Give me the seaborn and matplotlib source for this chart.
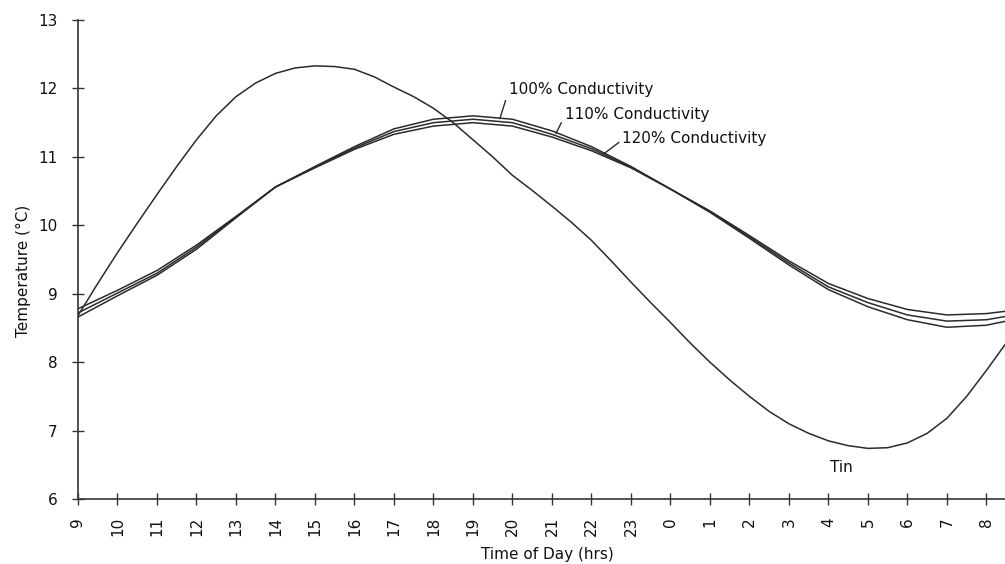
import numpy as np
import pandas as pd
import seaborn as sns
import matplotlib.pyplot as plt

# hours after 9:00, labelled as clock time
hours = list(range(25))
hour_labels = [str((9 + h) % 24) for h in range(24)]

# Tin read every half hour (sharper curve)
tin_hours = [h / 2 for h in range(49)]
tin = [8.68, 9.15, 9.60, 10.03, 10.45, 10.86, 11.25, 11.60, 11.88, 12.08, 12.22, 12.30,
       12.33, 12.32, 12.28, 12.17, 12.02, 11.88, 11.71, 11.50, 11.25, 11.00, 10.73, 10.51,
       10.28, 10.04, 9.78, 9.48, 9.17, 8.87, 8.58, 8.28, 8.00, 7.74, 7.50, 7.28,
       7.10, 6.96, 6.85, 6.78, 6.74, 6.75, 6.82, 6.96, 7.18, 7.50, 7.88, 8.28, 8.68]
cond_100 = [8.66, 8.97, 9.27, 9.65, 10.11, 10.56, 10.86, 11.15, 11.41, 11.55, 11.60, 11.55,
            11.38, 11.15, 10.86, 10.53, 10.19, 9.81, 9.42, 9.06, 8.81, 8.62, 8.51, 8.54, 8.66]
cond_110 = [8.72, 9.01, 9.30, 9.68, 10.12, 10.56, 10.85, 11.13, 11.37, 11.50, 11.55, 11.50,
            11.33, 11.12, 10.85, 10.53, 10.20, 9.83, 9.45, 9.10, 8.87, 8.69, 8.60, 8.62, 8.72]
cond_120 = [8.78, 9.05, 9.34, 9.71, 10.13, 10.56, 10.84, 11.11, 11.33, 11.45, 11.50, 11.45,
            11.29, 11.09, 10.84, 10.53, 10.21, 9.85, 9.48, 9.15, 8.93, 8.77, 8.69, 8.71, 8.78]

sns.set_theme(style="ticks")
plt.rcParams['font.family'] = ['DejaVu Sans']

fig = plt.figure(figsize=(10.05, 5.64), dpi=100)
ax = fig.add_axes([0.0776, 0.1152, 0.9224, 0.8493])

line_col = '#2b2b2b'
sns.lineplot(x=tin_hours, y=tin, color=line_col, linewidth=1.1, ax=ax)
for series in [cond_100, cond_110, cond_120]:
    sns.lineplot(x=hours, y=series, color=line_col, linewidth=1.1, ax=ax)

ax.set_xlim(0, 23.47)
ax.set_ylim(6, 13)
ax.set_xticks(range(24))
ax.set_xticklabels(hour_labels, rotation=90)
ax.set_yticks(range(6, 14))

for side in ['top', 'right']:
    ax.spines[side].set_visible(False)
for side in ['left', 'bottom']:
    ax.spines[side].set_color('#333333')
    ax.spines[side].set_linewidth(1.2)

ax.tick_params(direction='inout', length=9, width=1.0, color='#333333',
               labelsize=11, labelcolor='#111111')
ax.tick_params(axis='x', pad=8.5)
ax.tick_params(axis='y', pad=10)

ax.set_xlabel('Time of Day (hrs)', fontsize=11, color='#111111')
ax.set_ylabel('Temperature (°C)', fontsize=11, color='#111111')
ax.xaxis.set_label_coords(0.506, -0.100)
ax.yaxis.set_label_coords(-0.051, 0.476)

# curve labels with leader lines
lead = dict(arrowstyle='-', color=line_col, lw=1.0, shrinkA=0, shrinkB=0, relpos=(0, 0.4))
ax.annotate('100% Conductivity', xy=(10.68, 11.56), xytext=(10.9, 11.98),
            ha='left', va='center', fontsize=11, color='#111111', arrowprops=lead)
ax.annotate('110% Conductivity', xy=(12.1, 11.34), xytext=(12.32, 11.62),
            ha='left', va='center', fontsize=11, color='#111111', arrowprops=lead)
ax.annotate('120% Conductivity', xy=(13.3, 11.04), xytext=(13.78, 11.27),
            ha='left', va='center', fontsize=11, color='#111111', arrowprops=lead)
ax.text(19.32, 6.46, 'Tin', ha='center', va='center', fontsize=11, color='#111111')

fig.savefig('out.png', dpi=100)
